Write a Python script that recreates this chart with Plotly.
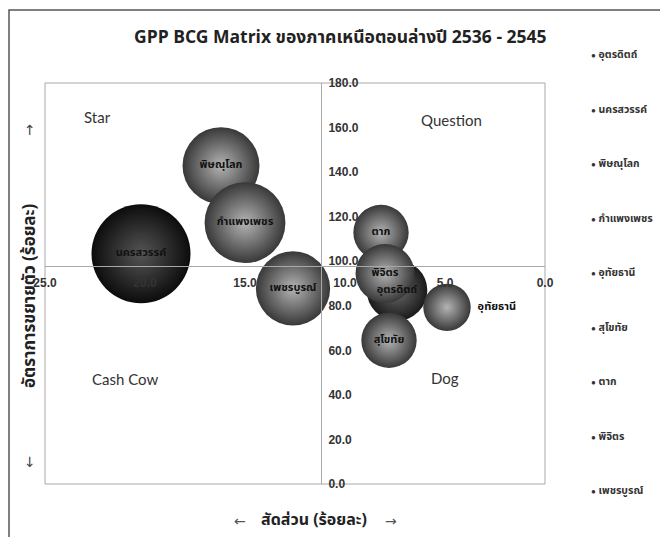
import plotly.graph_objects as go

# ---------------- data ----------------
provinces = ["อุตรดิตถ์", "นครสวรรค์", "พิษณุโลก", "กำแพงเพชร", "อุทัยธานี",
             "สุโขทัย", "ตาก", "พิจิตร", "เพชรบูรณ์"]
share = [7.4, 20.2, 16.2, 15.0, 4.9, 7.8, 8.2, 8.0, 12.6]          # สัดส่วน (ร้อยละ)
growth = [86.9, 103.4, 142.9, 117.3, 79.3, 64.5, 112.9, 94.5, 87.8]  # อัตราการขยายตัว (ร้อยละ)
bubble_size = [36, 96, 58, 64, 22, 30, 30, 34, 54]
x_ticks = [25, 20, 15, 10, 5, 0]
y_ticks = [0, 20, 40, 60, 80, 100, 120, 140, 160, 180]
share_cross = 11.2
growth_cross = 98.0
quadrant_names = ["Star", "Question", "Cash Cow", "Dog"]

# ---------------- styles ----------------
OFF = 8                      # page body margin
W, H = 668 - OFF, 537 - OFF
ML, MR, MT, MB = 45 - OFF, 123, 83 - OFF, 53
PW, PH = W - ML - MR, H - MT - MB
X_RANGE = [25, 0]
Y_RANGE = [0, 180]

def px_to_paper(px, py):
    return (px - OFF - ML) / PW, 1 - (py - OFF - MT) / PH

THAI = "Noto Sans Thai, Loma, Garuda, Tahoma, sans-serif"
NARROW = "Liberation Sans Narrow, Arial Narrow, Liberation Sans, sans-serif"

edge_colors = ["#1a1a1a", "#0c0c0c"] + ["#383838"] * 7
center_colors = ["#6a6a6a", "#555555"] + ["#b4b4b4"] * 7
text_pos = ["middle center"] * 9
text_pos[provinces.index("อุทัยธานี")] = "middle right"

max_d = 99
sizeref = 2.0 * max(bubble_size) / max_d ** 2

fig = go.Figure()
fig.add_trace(go.Scatter(
    x=share, y=growth, mode="markers+text",
    text=provinces, textposition=text_pos,
    textfont=dict(family=THAI, size=11, color="#111", weight="bold"),
    marker=dict(size=bubble_size, sizemode="area", sizeref=sizeref,
                color=edge_colors, opacity=1,
                gradient=dict(type="radial", color=center_colors),
                line=dict(width=0)),
    showlegend=False, hoverinfo="text",
))

fig.update_layout(
    width=W, height=H,
    margin=dict(l=ML, r=MR, t=MT, b=MB),
    paper_bgcolor="white", plot_bgcolor="white",
    showlegend=False,
    xaxis=dict(range=X_RANGE, tickvals=x_ticks, tickformat=".1f",
               anchor="free", position=(growth_cross - Y_RANGE[0]) / (Y_RANGE[1] - Y_RANGE[0]),
               side="bottom", showline=True, linecolor="#a8a8a8", linewidth=1,
               showgrid=False, zeroline=False, ticks="", ticklabelstandoff=6,
               tickfont=dict(family=NARROW, size=12, color="#333", weight="bold")),
    yaxis=dict(range=Y_RANGE, tickvals=y_ticks, tickformat=".1f",
               anchor="free", position=(X_RANGE[0] - share_cross) / (X_RANGE[0] - X_RANGE[1]),
               side="right", showline=True, linecolor="#a8a8a8", linewidth=1,
               showgrid=False, zeroline=False, ticks="", ticklabelstandoff=4,
               tickfont=dict(family=NARROW, size=12, color="#333", weight="bold")),
)

shapes = []
# plot-area border
shapes.append(dict(type="rect", xref="paper", yref="paper", x0=0, y0=0, x1=1, y1=1,
                   line=dict(color="#a8a8a8", width=1), layer="below"))
# outer chart frame
fx0, fy0 = px_to_paper(9, 10)
fx1, fy1 = px_to_paper(700, 560)
shapes.append(dict(type="rect", xref="paper", yref="paper", x0=fx0, y0=fy1, x1=fx1, y1=fy0,
                   line=dict(color="#555", width=1.5)))
fig.update_layout(shapes=shapes)

ann = []

def add_text(text, px, py, size, color="#222", family=THAI, weight="normal",
             angle=0, xanchor="center"):
    ax, ay = px_to_paper(px, py)
    ann.append(dict(text=text, x=ax, y=ay, xref="paper", yref="paper", showarrow=False,
                    xanchor=xanchor, yanchor="middle", textangle=angle,
                    font=dict(family=family, size=size, color=color, weight=weight)))

add_text("GPP BCG Matrix ของภาคเหนือตอนล่างปี 2536 - 2545", 340, 37, 17.5, weight="bold")
quad_px = [(97, 117), (451, 120), (125, 379), (445, 378)]
for name, (qx, qy) in zip(quadrant_names, quad_px):
    add_text(name, qx, qy, 15, color="#333", family="Lato, Open Sans, sans-serif")
# axis titles
add_text("อัตราการขยายตัว (ร้อยละ)", 30, 296, 17, weight="bold", angle=-90)
add_text("↑", 30, 130, 14, color="#444", family="DejaVu Sans")
add_text("↓", 30, 462, 14, color="#444", family="DejaVu Sans")
add_text("สัดส่วน (ร้อยละ)", 314, 520, 16, weight="bold")
add_text("←", 240, 521, 14, color="#555", family="DejaVu Sans")
add_text("→", 391, 521, 14, color="#555", family="DejaVu Sans")
# legend (manual, built from provinces)
for i, name in enumerate(provinces):
    add_text("<span style='font-size:8px'>●</span> " + name, 589, 55 + 54.5 * i, 10.5,
             color="#333", weight="bold", xanchor="left")
fig.update_layout(annotations=ann)

fig.write_html("out.html")
